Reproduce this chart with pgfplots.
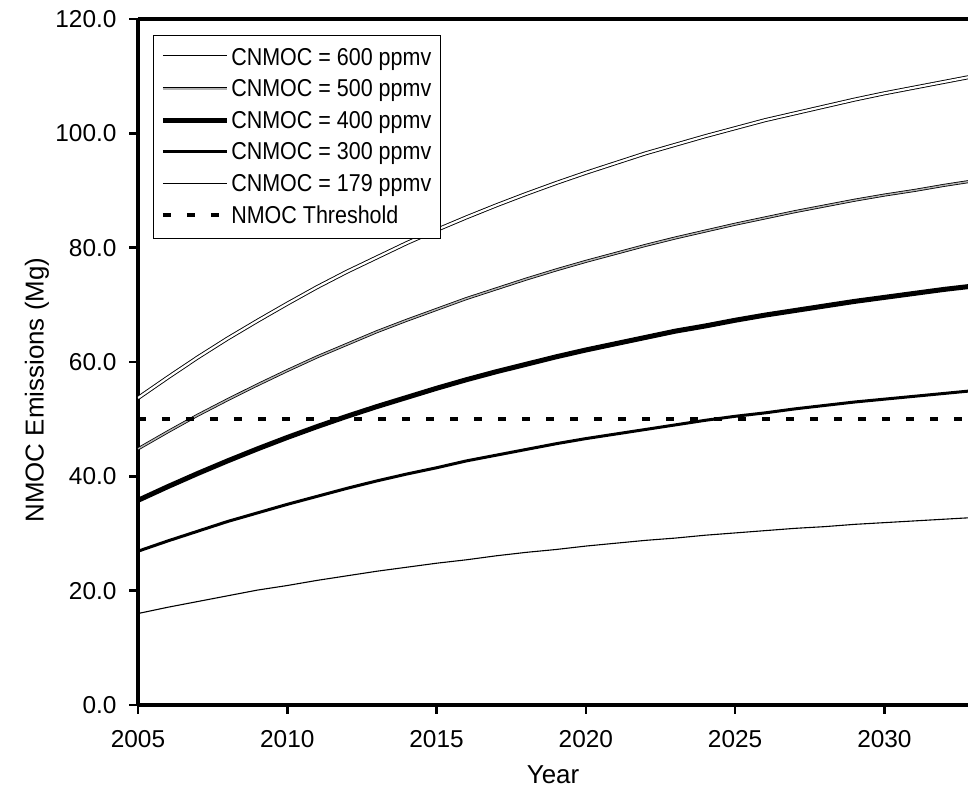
\documentclass[border=0pt]{standalone}
\usepackage{pgfplots}
\pgfplotsset{compat=1.18}
\usepackage{fontspec}
\setmainfont{Liberation Sans}
\newfontfamily\legfont[FakeStretch=0.88]{Liberation Sans}
\pgfplotstableread{
year c600 c500 c400 c300 c179 thr
2005 53.7 44.8 35.8 26.9 16.0 50
2006 57.3 47.8 38.2 28.7 17.1 50
2007 60.8 50.7 40.5 30.4 18.1 50
2008 64.1 53.4 42.7 32.1 19.1 50
2009 67.2 56.0 44.8 33.6 20.1 50
2010 70.2 58.5 46.8 35.1 20.9 50
2011 73.1 60.9 48.7 36.5 21.8 50
2012 75.8 63.1 50.5 37.9 22.6 50
2013 78.3 65.3 52.2 39.2 23.4 50
2014 80.8 67.3 53.8 40.4 24.1 50
2015 83.1 69.2 55.4 41.5 24.8 50
2016 85.3 71.1 56.9 42.7 25.4 50
2017 87.4 72.8 58.3 43.7 26.1 50
2018 89.4 74.5 59.6 44.7 26.7 50
2019 91.3 76.1 60.9 45.7 27.2 50
2020 93.1 77.6 62.1 46.6 27.8 50
2021 94.8 79.0 63.2 47.4 28.3 50
2022 96.5 80.4 64.3 48.2 28.8 50
2023 98.0 81.7 65.4 49.0 29.2 50
2024 99.5 82.9 66.3 49.8 29.7 50
2025 100.9 84.1 67.3 50.5 30.1 50
2026 102.3 85.2 68.2 51.1 30.5 50
2027 103.5 86.3 69.0 51.8 30.9 50
2028 104.7 87.3 69.8 52.4 31.2 50
2029 105.9 88.3 70.6 53.0 31.6 50
2030 107.0 89.2 71.3 53.5 31.9 50
2031 108.0 90.0 72.0 54.0 32.2 50
2032 109.0 90.9 72.7 54.5 32.5 50
2033 110.0 91.7 73.3 55.0 32.8 50
}\data
\begin{document}
\begin{tikzpicture}
\path[use as bounding box] (-138bp,-90bp) rectangle (830bp,705bp);
\begin{axis}[
  scale only axis, width=830bp, height=686bp,
  xmin=2005, xmax=2032.8, ymin=0, ymax=120,
  axis x line=box, axis y line=left,
  x axis line style={-}, y axis line style={-},
  axis line style={line width=3.5bp, black},
  xtick={2005,2010,...,2030}, ytick={0,20,...,120},
  xtick pos=bottom, ytick pos=left,
  tick align=outside, major tick length=9bp,
  tick style={line width=2.5bp, black},
  /pgf/number format/assume math mode=true,
  tick label style={font=\fontsize{24.5}{28}\selectfont},
  xticklabel style={/pgf/number format/1000 sep={}, yshift=-13bp},
  yticklabel style={/pgf/number format/fixed, /pgf/number format/fixed zerofill, /pgf/number format/precision=1, xshift=-9bp},
  xlabel={Year}, ylabel={NMOC Emissions (Mg)},
  every axis x label/.style={at={(axis description cs:0.5,0)}, anchor=center, yshift=-70bp, font=\fontsize{26}{30}\selectfont},
  every axis y label/.style={at={(axis description cs:-0.1217,0.459)}, anchor=center, rotate=90, font=\fontsize{26}{30}\selectfont},
  clip=true,
  legend cell align=left,
  legend style={at={(axis description cs:0.018,0.977)}, anchor=north west,
    draw=black, line width=0.8bp, font=\legfont\fontsize{24.5}{28}\selectfont,
    inner xsep=7bp, inner ysep=11bp, row sep=9bp,
    /tikz/every even column/.append style={column sep=0bp}},
  legend image code/.code={\draw[#1] (0bp,0bp) -- (64bp,0bp);},
]
\addplot[draw=black, line width=0.9bp, double=white, double distance=2.2bp] table[x=year, y=c600] {\data};
\addlegendentry{CNMOC = 600 ppmv}
\addplot[draw=black, line width=0.8bp, double=gray!60, double distance=1.4bp] table[x=year, y=c500] {\data};
\addlegendentry{CNMOC = 500 ppmv}
\addplot[black, line width=5bp] table[x=year, y=c400] {\data};
\addlegendentry{CNMOC = 400 ppmv}
\addplot[black, line width=3bp] table[x=year, y=c300] {\data};
\addlegendentry{CNMOC = 300 ppmv}
\addplot[black, line width=1.1bp] table[x=year, y=c179] {\data};
\addlegendentry{CNMOC = 179 ppmv}
\addplot[black, line width=4bp, dash pattern=on 8bp off 16bp] table[x=year, y=thr] {\data};
\addlegendentry{NMOC Threshold}
\end{axis}
\end{tikzpicture}
\end{document}
